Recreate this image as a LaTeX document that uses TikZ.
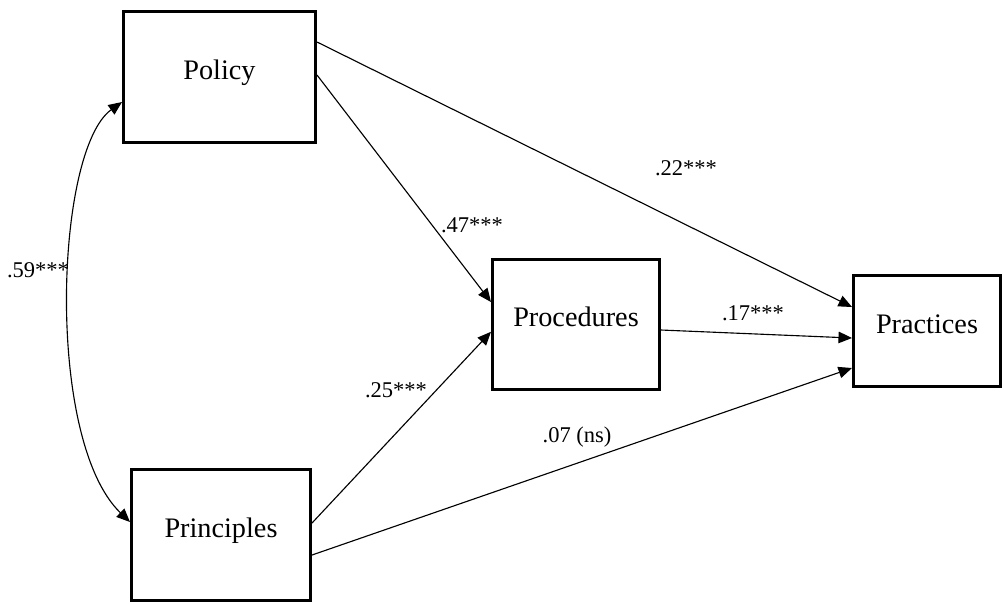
\documentclass[tikz,border=0pt]{standalone}
\usepackage{fontspec}
\setmainfont{Liberation Serif}
\usetikzlibrary{arrows.meta}
\tikzstyle{constructo} = [draw, line width=1.2pt, rectangle, inner sep=0pt, font=\rmfamily\fontsize{11.3}{13}\selectfont, text height=8pt, text depth=6.4pt]
\tikzstyle{ruta} = [line width=0.45pt, -{Triangle[length=5.4pt,width=4.6pt]}]
\tikzstyle{coef} = [font=\rmfamily\fontsize{9}{11}\selectfont, inner sep=0pt]

\begin{document}
\begin{tikzpicture}[x=0.4pt,y=-0.4pt]
		\useasboundingbox (0,0) rectangle (1004,603);
		% variables
		\node[constructo, minimum width=76.8pt, minimum height=52.4pt] (policy) at (219.5,77) {Policy};
		\node[constructo, minimum width=71.6pt, minimum height=52.4pt] (principles) at (221,535) {Principles};
		\node[constructo, minimum width=66.8pt, minimum height=52pt] (procedures) at (576,324.5) {Procedures};
		\node[constructo, minimum width=58.8pt, minimum height=44.4pt] (practices) at (927,331) {Practices};
		% rutas
		\draw[ruta] ([yshift=14pt]policy.east) -- ([yshift=9.6pt]practices.west);
		\draw[ruta] ([yshift=0.8pt]policy.east) -- ([yshift=9pt]procedures.west);
		\draw[ruta] ([yshift=4.8pt]principles.east) -- ([yshift=-2.9pt]procedures.west);
		\draw[ruta] ([yshift=-8pt]principles.east) -- ([yshift=-14.8pt]practices.west);
		\draw[ruta] ([yshift=-2.2pt]procedures.east) -- ([yshift=-2.8pt]practices.west);
		\draw[ruta, {Triangle[length=5.4pt,width=4.6pt]}-{Triangle[length=5.4pt,width=4.6pt]}] ([yshift=-10pt]policy.west) .. controls (55,150) and (45,440) .. ([yshift=5.2pt]principles.west);
		% coeficientes
		\node[coef] (c59) at (38,270) {.59***};
		\node[coef] (c47) at (472,225) {.47***};
		\node[coef] (c22) at (686,168) {.22***};
		\node[coef] (c17) at (753,313) {.17***};
		\node[coef] (c25) at (396,390) {.25***};
		\node[coef] (c07) at (577,437) {.07 (ns)};
	\end{tikzpicture}
\end{document}
